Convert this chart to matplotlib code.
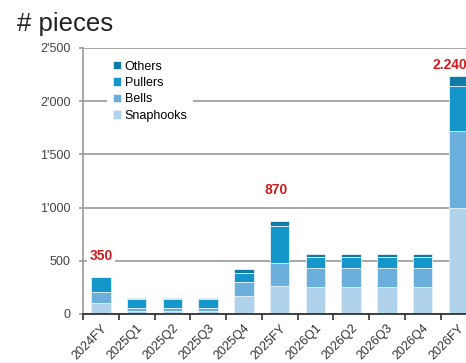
import numpy as np
import matplotlib.pyplot as plt
from matplotlib.ticker import FuncFormatter

plt.rcParams['font.family'] = ['Liberation Sans', 'DejaVu Sans']

# Quarterly and full-year volumes, split by product
periods = ['2024FY', '2025Q1', '2025Q2', '2025Q3', '2025Q4', '2025FY',
           '2026Q1', '2026Q2', '2026Q3', '2026Q4', '2026FY']
snaphooks = [100, 30, 30, 30, 170, 260, 250, 250, 250, 250, 1000]
bells = [110, 30, 30, 30, 130, 220, 180, 180, 180, 180, 720]
pullers = [140, 85, 85, 85, 90, 345, 105, 105, 105, 105, 420]
others = [0, 5, 5, 5, 30, 45, 25, 25, 25, 25, 100]

# Totals printed above the full-year bars
total_idx = [0, 5, 10]
total_txt = ['350', '870', '2.240']

series = [('Snaphooks', snaphooks, '#b0d2eb'),
          ('Bells', bells, '#6aaedc'),
          ('Pullers', pullers, '#1596cb'),
          ('Others', others, '#107aa8')]

fig = plt.figure(figsize=(4.66, 3.63), dpi=100)
ax = fig.add_axes([83 / 466, 49 / 363, 429 / 466, 266 / 363])

x = np.arange(len(periods))
bottom = np.zeros(len(periods))
handles = []
for name, vals, color in series:
    vals = np.array(vals, dtype=float)
    b = ax.bar(x, vals, 0.55, bottom=bottom, color=color,
               edgecolor='#e6f1f9', linewidth=0.6, label=name, zorder=3)
    handles.append(b)
    bottom += vals

# label heights above each bar differ a bit, keep them clear of the gridlines
lift = [195, 295, 100]
shift = [0, -0.1, -0.25]
for i, txt, dy, dx in zip(total_idx, total_txt, lift, shift):
    ax.text(i + dx, bottom[i] + dy, txt, ha='center', va='center',
            color='#d01c1f', fontsize=10, fontweight='bold', zorder=5,
            bbox=dict(facecolor='white', edgecolor='none', pad=1.5))

ax.set_xlim(-0.5, 11.5)
ax.set_ylim(0, 2500)
ax.set_yticks([0, 500, 1000, 1500, 2000, 2500])
ax.yaxis.set_major_formatter(FuncFormatter(lambda v, p: f'{int(v):,}'.replace(',', "'")))
ax.yaxis.grid(True, color='#a0a0a0', linewidth=1.3, zorder=0)
ax.set_axisbelow(True)

ax.set_xticks(x)
ax.set_xticklabels(periods, rotation=45, ha='right', rotation_mode='anchor')
ax.set_xticks(np.arange(-0.5, 11.5, 1), minor=True)
ax.tick_params(axis='x', which='major', length=0, pad=6, labelsize=9, labelcolor='#333333')
ax.tick_params(axis='x', which='minor', length=4, width=1.2, color='#333333')
ax.tick_params(axis='y', length=3, width=1.3, color='#a0a0a0', labelsize=9,
               labelcolor='#444444', pad=6)

for s in ['top', 'right']:
    ax.spines[s].set_visible(False)
ax.spines['left'].set_color('#a0a0a0')
ax.spines['left'].set_linewidth(1.3)
ax.spines['bottom'].set_color('#333333')
ax.spines['bottom'].set_linewidth(1.3)
ax.spines['bottom'].set_zorder(4)

leg = ax.legend(handles[::-1], [s[0] for s in series][::-1], loc='upper left',
                bbox_to_anchor=(0.042, 0.997), frameon=True, fancybox=False,
                edgecolor='none', framealpha=1, fontsize=9,
                handlelength=0.65, handleheight=0.65, handletextpad=0.3,
                labelspacing=0.35, borderpad=0.45)
leg.set_zorder(6)

fig.text(17 / 466, 1 - 31 / 363, '# pieces', fontsize=18.5, color='#222222')

fig.savefig('out.png', dpi=100)
